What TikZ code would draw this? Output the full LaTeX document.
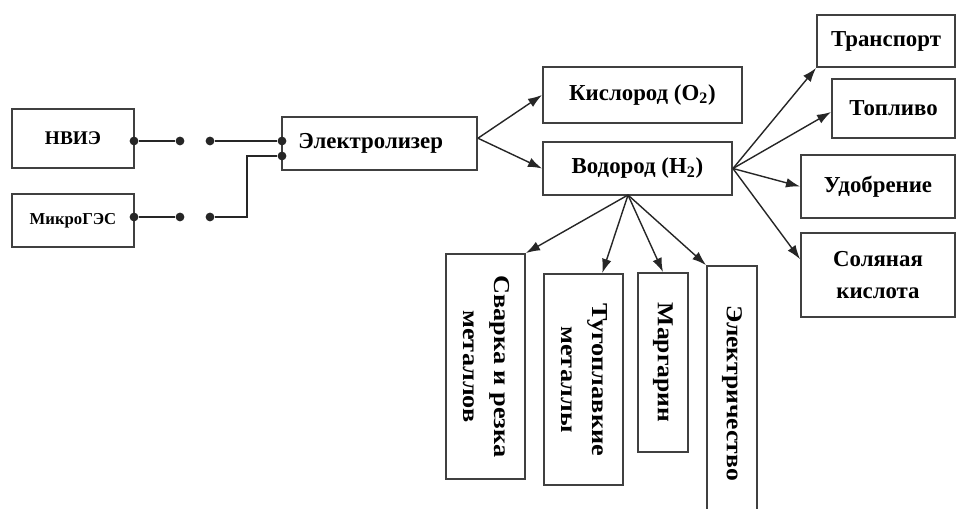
\documentclass[tikz,border=0pt]{standalone}
\usepackage{fontspec}
\usepackage{graphicx}
\setmainfont{Liberation Serif}
\usetikzlibrary{arrows.meta}
\begin{document}
\begin{tikzpicture}[x=0.02cm,y=-0.02cm,
    box/.style={draw=black!75,line width=1.1pt,inner sep=0pt,align=center,
      font=\bfseries\fontsize{13}{18}\selectfont},
    dot/.style={circle,fill=black!85,inner sep=0pt,minimum size=5pt},
    wire/.style={draw=black!85,line width=1pt},
    arr/.style={draw=black!85,line width=0.8pt,-{Latex[length=8pt,width=5.5pt]}}]
    \clip (0,0) rectangle (958,509);
    \node[box,minimum width=2.44cm,minimum height=1.18cm,font=\bfseries\fontsize{11}{13}\selectfont] (nvie) at (73,138.5) {НВИЭ};
    \node[box,minimum width=2.44cm,minimum height=1.06cm,font=\bfseries\fontsize{9.5}{11}\selectfont] (mges) at (73,220.5) {МикроГЭС};
    \node[box,minimum width=3.9cm,minimum height=1.06cm] (elz) at (379.5,143.5) {Электролизер\hspace{10pt}};
    \node[box,minimum width=3.98cm,minimum height=1.12cm] (kisl) at (642.5,95) {Кислород (O\textsubscript{2})};
    \node[box,minimum width=3.78cm,minimum height=1.06cm] (vod) at (637.5,168.5) {Водород (H\textsubscript{2})};
    \node[box,minimum width=2.76cm,minimum height=1.04cm] (trans) at (886,41) {Транспорт};
    \node[box,minimum width=2.46cm,minimum height=1.18cm] (topl) at (893.5,108.5) {Топливо};
    \node[box,minimum width=3.08cm,minimum height=1.26cm] (udob) at (878,186.5) {Удобрение};
    \node[box,minimum width=3.08cm,minimum height=1.68cm] (sol) at (878,275) {Соляная\\кислота};
    \node[box,minimum width=1.58cm,minimum height=4.5cm] (svarka) at (485.5,366.5) {\rotatebox{-90}{\scalebox{1.15}[1]{\begin{tabular}{@{}c@{}}Сварка и резка\\металлов\end{tabular}}}};
    \node[box,minimum width=1.58cm,minimum height=4.22cm] (tugo) at (583.5,379.5) {\rotatebox{-90}{\scalebox{1.15}[1]{\begin{tabular}{@{}c@{}}Тугоплавкие\\металлы\end{tabular}}}};
    \node[box,minimum width=1cm,minimum height=3.58cm] (marg) at (663,362.5) {\rotatebox{-90}{\scalebox{1.12}[1]{Маргарин}}\rule[-8pt]{0pt}{0pt}};
    \node[box,minimum width=1cm,minimum height=5.08cm] (elek) at (732,393) {\rotatebox{-90}{\scalebox{1.12}[1]{Электричество}}\rule[-3pt]{0pt}{0pt}};
    \node[dot] (d1) at (134,141) {};
    \node[dot] (d2) at (180,141) {};
    \node[dot] (d3) at (210,141) {};
    \node[dot] (d4) at (282,141) {};
    \node[dot] (d5) at (134,217) {};
    \node[dot] (d6) at (180,217) {};
    \node[dot] (d7) at (210,217) {};
    \node[dot] (d8) at (282,156) {};
    \coordinate (bend) at (247,217);
    \coordinate (vbot) at (628,195);
    \draw[wire] (d1)--(d2);
    \draw[wire] (d3)--(d4);
    \draw[wire] (d5)--(d6);
    \draw[wire] (d7)--(bend)|-(d8);
    \draw[arr] ([yshift=3pt]elz.east)--(kisl.west);
    \draw[arr] ([yshift=3pt]elz.east)--(vod.west);
    \draw[arr] (vod.east)--(trans.south west);
    \draw[arr] (vod.east)--([yshift=-2pt]topl.west);
    \draw[arr] (vod.east)--(udob.west);
    \draw[arr] (vod.east)--([yshift=9pt]sol.west);
    \draw[arr] (vbot)--(svarka.north east);
    \draw[arr] (vbot)--(tugo.80);
    \draw[arr] (vbot)--(marg.north);
    \draw[arr] (vbot)--(elek.north west);
  \end{tikzpicture}
\end{document}
